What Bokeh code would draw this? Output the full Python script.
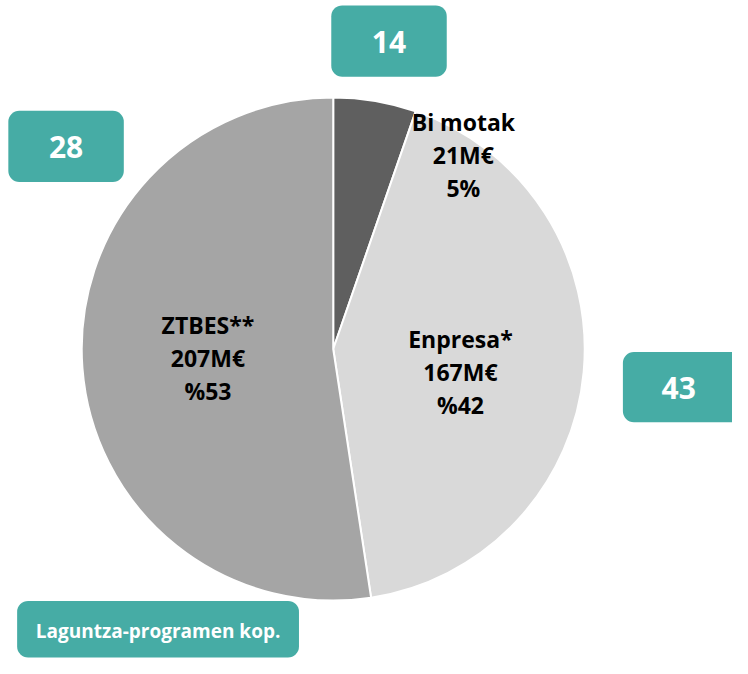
import math
from bokeh.plotting import figure
from bokeh.models import Range1d, ColumnDataSource
from bokeh.core.properties import value
from bokeh.embed import file_html
from bokeh.resources import INLINE

# ---- data ----
names = ["Bi motak", "Enpresa*", "ZTBES**"]
amounts_meur = [21, 167, 207]
pct_labels = ["5%", "%42", "%53"]
program_counts = [14, 43, 28]
legend_label = "Laguntza-programen kop."

# ---- styles / layout (image-like coordinates, y negated) ----
slice_colors = ["#5f5f5f", "#d9d9d9", "#a5a5a5"]
teal = "#46aca5"
FONT = "Open Sans"
cx, cy, R = 340, -357, 257
label_pos = [(473, -158), (470, -381), (212, -366)]
count_boxes = [(338, 456, -5, -78), (636, 770, -360, -432), (8, 126, -113, -186)]
count_text_pos = [(397, -42), (693, -397), (67, -150)]
legend_box = (17, 305, -615, -673)
legend_text_pos = (161, -646)

p = figure(width=732, height=658, output_backend="svg", toolbar_location=None,
           x_range=Range1d(0, 748), y_range=Range1d(-674, 0),
           x_axis_location=None, y_axis_location=None, min_border=0)
p.grid.visible = False
p.outline_line_color = None
p.background_fill_color = "white"

total = sum(amounts_meur)
starts, ends = [], []
cum = 0
for a in amounts_meur:
    starts.append(math.pi / 2 - 2 * math.pi * cum / total)
    cum += a
    ends.append(math.pi / 2 - 2 * math.pi * cum / total)

src = ColumnDataSource(dict(start=starts, end=ends, color=slice_colors,
                            x=[cx] * 3, y=[cy] * 3))
p.wedge(x="x", y="y", radius=R, start_angle="start", end_angle="end",
        direction="clock", fill_color="color", line_color="white",
        line_width=2, source=src)

labels = [f"{n}\n{a}M€\n{pc}" for n, a, pc in zip(names, amounts_meur, pct_labels)]
p.text(x=[q[0] for q in label_pos], y=[q[1] for q in label_pos], text=labels,
       text_font=value(FONT), text_font_style="bold", text_font_size="23px",
       text_align="center", text_baseline="middle", text_line_height=1.03,
       text_color="black")

p.quad(left=[b[0] for b in count_boxes], right=[b[1] for b in count_boxes],
       top=[b[2] for b in count_boxes], bottom=[b[3] for b in count_boxes],
       fill_color=teal, line_color=None, border_radius=11)
p.text(x=[q[0] for q in count_text_pos], y=[q[1] for q in count_text_pos],
       text=[str(c) for c in program_counts], text_font=value(FONT),
       text_font_style="bold", text_font_size="30px", text_align="center",
       text_baseline="middle", text_color="white")

p.quad(left=[legend_box[0]], right=[legend_box[1]], top=[legend_box[2]],
       bottom=[legend_box[3]], fill_color=teal, line_color=None, border_radius=11)
p.text(x=[legend_text_pos[0]], y=[legend_text_pos[1]], text=[legend_label],
       text_font=value(FONT), text_font_style="bold", text_font_size="19px",
       text_align="center", text_baseline="middle", text_color="white")

open("out.html", "w").write(file_html(p, INLINE))
